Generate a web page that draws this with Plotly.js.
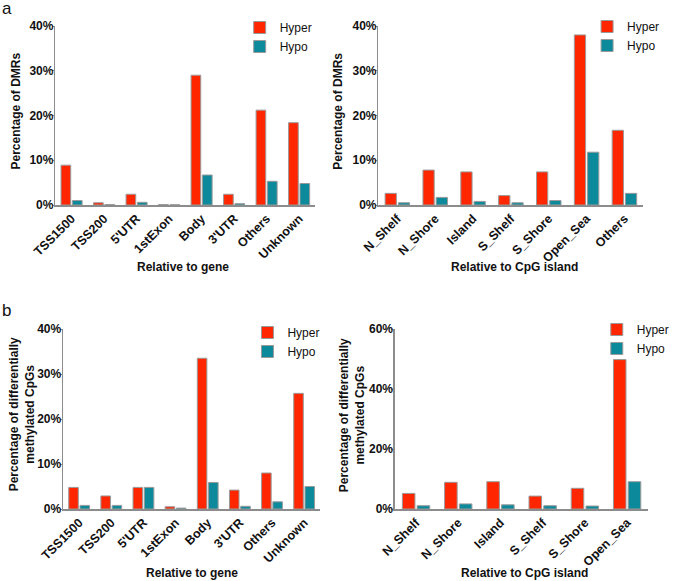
<!DOCTYPE html>
<html>
<head>
<meta charset="utf-8">
<script src="https://cdn.plot.ly/plotly-3.0.1.min.js"></script>
<style>html,body{margin:0;padding:0;background:#fff;}#chart{width:675px;height:581px;}</style>
</head>
<body>
<div id="chart"></div>
<script>
// ---- Data ----
const geneCategories = ["TSS1500", "TSS200", "5'UTR", "1stExon", "Body", "3'UTR", "Others", "Unknown"];
const cpgCategoriesA = ["N_Shelf", "N_Shore", "Island", "S_Shelf", "S_Shore", "Open_Sea", "Others"];
const cpgCategoriesB = ["N_Shelf", "N_Shore", "Island", "S_Shelf", "S_Shore", "Open_Sea"];

// Panel a: Percentage of DMRs
const dmrGeneHyper = [8.9, 0.5, 2.4, 0.1, 29.0, 2.4, 21.2, 18.4];
const dmrGeneHypo  = [1.0, 0.1, 0.6, 0.05, 6.7, 0.3, 5.3, 4.8];
const dmrCpgHyper  = [2.6, 7.8, 7.4, 2.1, 7.4, 38.0, 16.7];
const dmrCpgHypo   = [0.5, 1.7, 0.8, 0.5, 1.0, 11.8, 2.6];

// Panel b: Percentage of differentially methylated CpGs
const cpgGeneHyper = [4.8, 2.9, 4.8, 0.5, 33.5, 4.2, 8.0, 25.7];
const cpgGeneHypo  = [0.8, 0.8, 4.8, 0.2, 5.9, 0.6, 1.6, 5.0];
const cpgCpgHyper  = [5.2, 8.9, 9.1, 4.3, 6.9, 49.8];
const cpgCpgHypo   = [1.1, 1.7, 1.4, 1.1, 1.0, 9.1];

const seriesNames = ["Hyper", "Hypo"];
const yTicksA = [0, 10, 20, 30, 40];
const yTicksBLeft = [0, 10, 20, 30, 40];
const yTicksBRight = [0, 20, 40, 60];

const titleGene = "Relative to gene";
const titleCpg = "Relative to CpG island";
const titleDMR = "Percentage of DMRs";
const titleCpGs = "Percentage of differentially<br>methylated CpGs";

// ---- Styling ----
const RED = "#FF2600";
const TEAL = "#0C8A9C";
const OUTLINE = "#9a9a9a";
const AXIS = "#8c8c8c";
const FAM = "Liberation Sans, Arial, Helvetica, sans-serif";
const TICK = 12, XTICK = 12.5, TITLE = 12, LEG = 12;

function bar(x, y, name, color, xa, ya, leg) {
  return {
    type: "bar", x: x, y: y, name: name,
    xaxis: xa, yaxis: ya, legend: leg,
    marker: {color: color, line: {color: OUTLINE, width: 1}},
    hoverinfo: "skip"
  };
}

const data = [
  bar(geneCategories, dmrGeneHyper, seriesNames[0], RED, "x", "y", "legend"),
  bar(geneCategories, dmrGeneHypo, seriesNames[1], TEAL, "x", "y", "legend"),
  bar(cpgCategoriesA, dmrCpgHyper, seriesNames[0], RED, "x2", "y2", "legend2"),
  bar(cpgCategoriesA, dmrCpgHypo, seriesNames[1], TEAL, "x2", "y2", "legend2"),
  bar(geneCategories, cpgGeneHyper, seriesNames[0], RED, "x3", "y3", "legend3"),
  bar(geneCategories, cpgGeneHypo, seriesNames[1], TEAL, "x3", "y3", "legend3"),
  bar(cpgCategoriesB, cpgCpgHyper, seriesNames[0], RED, "x4", "y4", "legend4"),
  bar(cpgCategoriesB, cpgCpgHypo, seriesNames[1], TEAL, "x4", "y4", "legend4")
];

const W = 675, H = 581;
function xd(a, b) { return [a / W, b / W]; }
function yd(top, bottom) { return [1 - bottom / H, 1 - top / H]; }

function xaxis(domain, anchor, n) {
  return {
    domain: domain, anchor: anchor, type: "category",
    range: [-0.5, n - 0.5],
    showline: true, linecolor: AXIS, linewidth: 1.5,
    ticks: "", tickangle: -45, showgrid: false, zeroline: false,
    tickfont: {family: FAM, size: XTICK, color: "#111", weight: "bold"},
    automargin: false
  };
}
function yaxis(domain, anchor, ticks, max) {
  return {
    domain: domain, anchor: anchor, range: [0, max],
    tickvals: ticks, ticktext: ticks.map(v => v + "%"),
    showline: true, linecolor: AXIS, linewidth: 1.5,
    ticks: "outside", ticklen: 2, tickcolor: AXIS, tickwidth: 1,
    ticklabelstandoff: -4,
    showgrid: false, zeroline: false,
    tickfont: {family: FAM, size: TICK, color: "#111", weight: "bold"},
    automargin: false
  };
}
function legend(x, y) {
  return {
    x: x, y: y, xanchor: "left", yanchor: "top",
    font: {family: FAM, size: LEG, color: "#111"},
    bgcolor: "rgba(0,0,0,0)", itemwidth: 30, tracegroupgap: 0,
    traceorder: "normal"
  };
}
function ann(text, x, y, angle, size, bold) {
  return {
    text: text, x: x / W, y: 1 - y / H, xref: "paper", yref: "paper",
    xanchor: "center", yanchor: "middle", showarrow: false, textangle: angle,
    font: {family: FAM, size: size, color: "#111", weight: bold ? "bold" : "normal"}
  };
}

const layout = {
  width: W, height: H,
  margin: {l: 0, r: 0, t: 0, b: 0},
  paper_bgcolor: "#fff", plot_bgcolor: "#fff",
  barmode: "group", bargap: 0.3, bargroupgap: 0.15,
  showlegend: true,
  font: {family: FAM},
  xaxis: xaxis(xd(57, 325), "y", geneCategories.length),
  yaxis: yaxis(yd(26, 205), "x", yTicksA, 40),
  xaxis2: xaxis(xd(390, 663), "y2", cpgCategoriesA.length),
  yaxis2: yaxis(yd(26, 205), "x2", yTicksA, 40),
  xaxis3: xaxis(xd(65, 330), "y3", geneCategories.length),
  yaxis3: yaxis(yd(329, 509), "x3", yTicksBLeft, 40),
  xaxis4: xaxis(xd(407, 668), "y4", cpgCategoriesB.length),
  yaxis4: yaxis(yd(329, 509), "x4", yTicksBRight, 60),
  legend: legend(247 / W, 1 - 13 / H),
  legend2: legend(605 / W, 1 - 12 / H),
  legend3: legend(255 / W, 1 - 318 / H),
  legend4: legend(615 / W, 1 - 315 / H),
  annotations: [
    ann("a", 7, 8, 0, 17, false),
    ann("b", 7, 310, 0, 17, false),
    ann(titleGene, 189, 267, 0, TITLE, true),
    ann(titleCpg, 530, 267, 0, TITLE, true),
    ann(titleGene, 198, 573, 0, TITLE, true),
    ann(titleCpg, 540, 573, 0, TITLE, true),
    ann(titleDMR, 16, 111, -90, TITLE, true),
    ann(titleDMR, 348, 111, -90, TITLE, true),
    ann(titleCpGs, 23, 414, -90, TITLE, true),
    ann(titleCpGs, 363, 415, -90, TITLE, true)
  ]
};

Plotly.newPlot("chart", data, layout, {staticPlot: true, displayModeBar: false});
</script>
</body>
</html>
